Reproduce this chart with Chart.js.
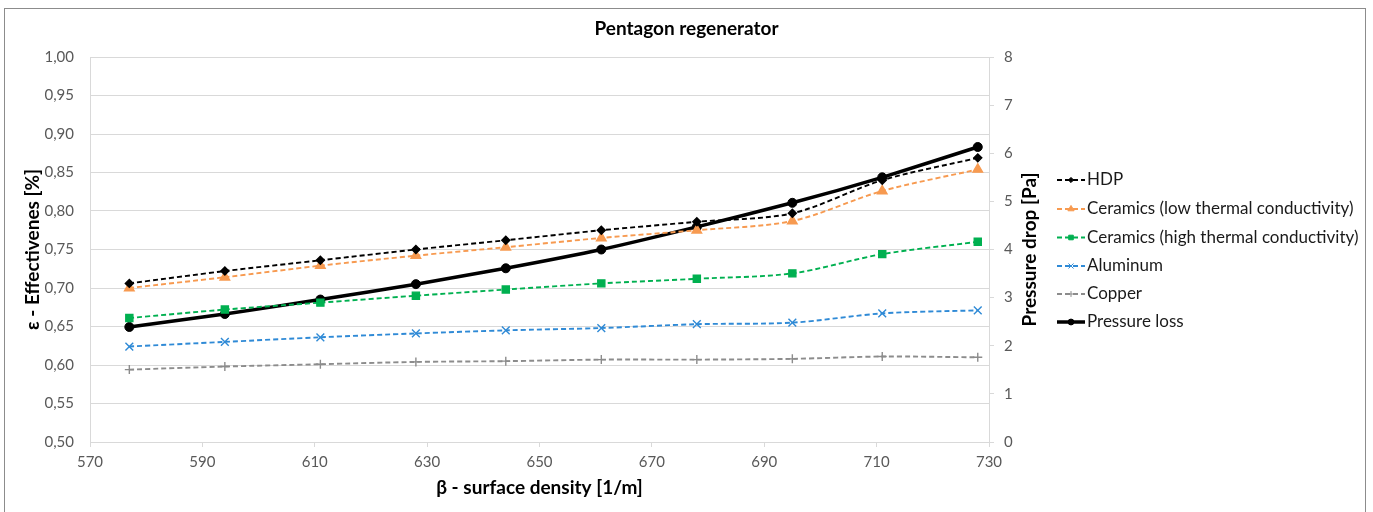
<!DOCTYPE html>
<html>
<head>
<meta charset="utf-8">
<script src="https://cdn.jsdelivr.net/npm/chart.js@4/dist/chart.umd.min.js"></script>
<style>
  body { margin: 0; background: #fff; }
  #wrap { position: relative; width: 1373px; height: 512px; }
</style>
</head>
<body>
<div id="wrap"><canvas id="myChart" width="1373" height="512"></canvas></div>
<script>
// Surface density (x) and the series
const beta = [577, 594, 611, 628, 644, 661, 678, 695, 711, 728];
const hdp = [0.706, 0.722, 0.736, 0.750, 0.762, 0.775, 0.786, 0.797, 0.840, 0.869];
const ceramicsLow = [0.700, 0.714, 0.729, 0.742, 0.753, 0.765, 0.775, 0.787, 0.826, 0.854];
const ceramicsHigh = [0.661, 0.672, 0.681, 0.690, 0.698, 0.706, 0.712, 0.719, 0.744, 0.760];
const aluminum = [0.624, 0.630, 0.636, 0.641, 0.645, 0.648, 0.653, 0.655, 0.667, 0.671];
const copper = [0.594, 0.598, 0.601, 0.604, 0.605, 0.607, 0.607, 0.608, 0.611, 0.610];
const pressureLoss = [2.39, 2.66, 2.96, 3.28, 3.61, 4.00, 4.47, 4.97, 5.50, 6.13];

const FONT = "Lato, 'Open Sans', sans-serif";

function toPoints(values) {
    return values.map((v, i) => ({ x: beta[i], y: v }));
}

function dashedSeries(label, values, color, pointStyle, radius) {
    return {
        label: label,
        data: toPoints(values),
        borderColor: color,
        backgroundColor: color,
        borderWidth: 1.9,
        borderDash: [5, 3],
        pointStyle: pointStyle,
        pointRadius: radius,
        pointBorderWidth: 1.4,
        tension: 0.3,
        yAxisID: 'y'
    };
}

const datasets = [
    dashedSeries('HDP', hdp, '#000000', 'rectRot', 4),
    dashedSeries('Ceramics (low thermal conductivity)', ceramicsLow, '#F79A50', 'triangle', 5.5),
    dashedSeries('Ceramics (high thermal conductivity)', ceramicsHigh, '#00B050', 'rect', 5),
    dashedSeries('Aluminum', aluminum, '#2F8AD6', 'crossRot', 5.5),
    dashedSeries('Copper', copper, '#8C8C8C', 'cross', 4.5),
    {
        label: 'Pressure loss',
        data: toPoints(pressureLoss),
        borderColor: '#000000',
        backgroundColor: '#000000',
        borderWidth: 3.5,
        pointStyle: 'circle',
        pointRadius: 4.5,
        pointBorderWidth: 1,
        tension: 0.2,
        yAxisID: 'y1'
    }
];

// frame, chart title, right axis title (reads bottom-to-top) and the legend
const extras = {
    id: 'extras',
    beforeDraw(chart) {
        const ctx = chart.ctx;
        ctx.save();
        ctx.fillStyle = '#fff';
        ctx.fillRect(0, 0, chart.width, chart.height);
        ctx.strokeStyle = '#8c8c8c';
        ctx.lineWidth = 1;
        ctx.strokeRect(4.5, 8.5, 1361, 520);
        ctx.restore();
    },
    afterDraw(chart) {
        const ctx = chart.ctx;
        const area = chart.chartArea;
        ctx.save();
        ctx.font = "bold 19px " + FONT;
        ctx.fillStyle = '#000';
        ctx.textAlign = 'center';
        ctx.textBaseline = 'middle';
        ctx.fillText('Pentagon regenerator', chart.width / 2, 29);

        ctx.translate(1030, (area.top + area.bottom) / 2);
        ctx.rotate(-Math.PI / 2);
        ctx.fillText('Pressure drop [Pa]', 0, 0);
        ctx.restore();

        const rows = [180, 209, 237.5, 266, 294, 322];
        chart.data.datasets.forEach((ds, i) => {
            const y = rows[i];
            ctx.save();
            ctx.strokeStyle = ds.borderColor;
            ctx.fillStyle = ds.backgroundColor;
            ctx.lineWidth = ds.borderWidth;
            ctx.setLineDash(ds.borderDash || []);
            ctx.beginPath();
            ctx.moveTo(1057, y);
            ctx.lineTo(1085, y);
            ctx.stroke();
            ctx.setLineDash([]);
            ctx.lineWidth = 1;
            Chart.helpers.drawPoint(ctx, {
                pointStyle: ds.pointStyle,
                radius: ds.pointRadius * 0.65,
                rotation: 0,
                borderWidth: 1
            }, 1071, y);
            ctx.fillStyle = '#1a1a1a';
            ctx.font = "17px " + FONT;
            ctx.textAlign = 'left';
            ctx.textBaseline = 'middle';
            ctx.fillText(ds.label, 1087, y);
            ctx.restore();
        });
    }
};

const ctx = document.getElementById('myChart').getContext('2d');
const myChart = new Chart(ctx, {
    type: 'line',
    data: { datasets: datasets },
    options: {
        responsive: false,
        animation: false,
        layout: { padding: { left: 0, right: 334, top: 57, bottom: 0 } },
        plugins: {
            legend: { display: false },
            tooltip: { enabled: false },
            title: { display: false }
        },
        scales: {
            x: {
                type: 'linear',
                min: 570,
                max: 730,
                ticks: { stepSize: 20, color: '#595959', padding: 6, font: { family: FONT, size: 15 } },
                grid: { drawOnChartArea: false, drawTicks: true, tickLength: 5, color: '#d9d9d9' },
                border: { color: '#d9d9d9' },
                title: {
                    display: true,
                    text: 'β - surface density [1/m]',
                    color: '#000',
                    font: { family: FONT, size: 19, weight: 'bold' },
                    padding: { top: 0, bottom: 12.6 }
                },
                afterFit: function(scale) { scale.height = 70; }
            },
            y: {
                position: 'left',
                min: 0.5,
                max: 1.0,
                ticks: {
                    stepSize: 0.05,
                    color: '#595959',
                    padding: 16,
                    font: { family: FONT, size: 15 },
                    callback: function(v) { return v.toFixed(2).replace('.', ','); }
                },
                grid: { color: '#d9d9d9', drawTicks: false },
                border: { color: '#d9d9d9' },
                title: {
                    display: true,
                    text: 'ε - Effectivenes [%]',
                    color: '#000',
                    font: { family: FONT, size: 19, weight: 'bold' },
                    padding: { top: 21.6, bottom: 0 }
                },
                afterFit: function(scale) { scale.width = 90; }
            },
            y1: {
                position: 'right',
                min: 0,
                max: 8,
                ticks: { stepSize: 1, color: '#595959', padding: 10, font: { family: FONT, size: 15 } },
                grid: { drawOnChartArea: false, drawTicks: true, tickLength: 5, color: '#d9d9d9' },
                border: { color: '#d9d9d9' },
                afterFit: function(scale) { scale.width = 50; }
            }
        }
    },
    plugins: [extras]
});
</script>
</body>
</html>
